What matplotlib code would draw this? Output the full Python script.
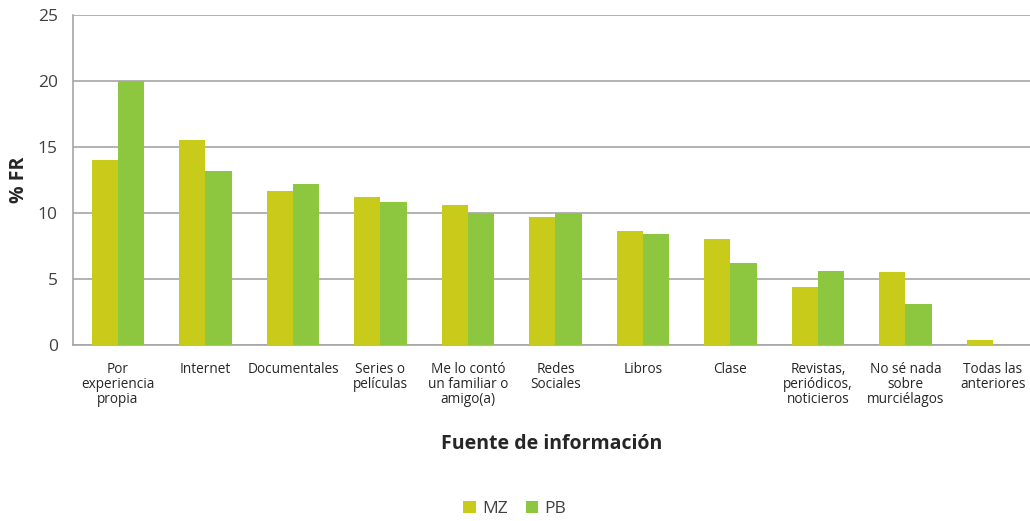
import numpy as np
import matplotlib
matplotlib.use('Agg')
import matplotlib.pyplot as plt

plt.rcParams['font.family'] = ['Open Sans', 'DejaVu Sans']

# datos
categorias = ['Por\nexperiencia\npropia', 'Internet', 'Documentales', 'Series o\npelículas',
              'Me lo contó\nun familiar o\namigo(a)', 'Redes\nSociales', 'Libros', 'Clase',
              'Revistas,\nperiódicos,\nnoticieros', 'No sé nada\nsobre\nmurciélagos',
              'Todas las\nanteriores']
mz = [14.0, 15.5, 11.7, 11.2, 10.6, 9.7, 8.6, 8.05, 4.4, 5.5, 0.35]
pb = [20.0, 13.2, 12.2, 10.85, 10.0, 10.0, 8.4, 6.2, 5.6, 3.1, 0.0]

fig = plt.figure(figsize=(10.30, 5.21), dpi=100)
ax = fig.add_axes([0.0709, 0.338, 0.929, 0.633])

x = np.arange(len(categorias))
w = 0.3
ax.bar(x - w/2, mz, w, color='#C8CB1A', label='MZ', zorder=3)
ax.bar(x + w/2, pb, w, color='#8DC63F', label='PB', zorder=3)

ax.set_ylim(0, 25)
ax.set_xlim(-0.514, len(categorias) - 0.577)
ax.set_yticks([0, 5, 10, 15, 20, 25])
ax.grid(axis='y', color='#a6a6a6', linewidth=1.2, zorder=0)
ax.tick_params(axis='both', length=0)
ax.tick_params(axis='y', labelsize=12.5, labelcolor='#404040', pad=11)
ax.set_xticks(x)
ax.set_xticklabels(categorias, fontsize=9.8, color='#262626', linespacing=1.0)
ax.tick_params(axis='x', pad=12)

for s in ['top', 'right']:
    ax.spines[s].set_visible(False)
for s in ['left', 'bottom']:
    ax.spines[s].set_color('#a6a6a6')
    ax.spines[s].set_linewidth(1.2)

ax.set_ylabel('% FR', fontsize=14, fontweight='bold', color='#262626', labelpad=6)
ax.set_xlabel('Fuente de información', fontsize=14, fontweight='bold', color='#262626', labelpad=20)

fig.legend(loc='lower center', bbox_to_anchor=(0.5, -0.022), ncol=2, frameon=False,
           fontsize=12.5, handlelength=0.7, handleheight=0.7, handletextpad=0.4,
           columnspacing=1.0, labelcolor='#404040')

fig.savefig('out.png', dpi=100)
